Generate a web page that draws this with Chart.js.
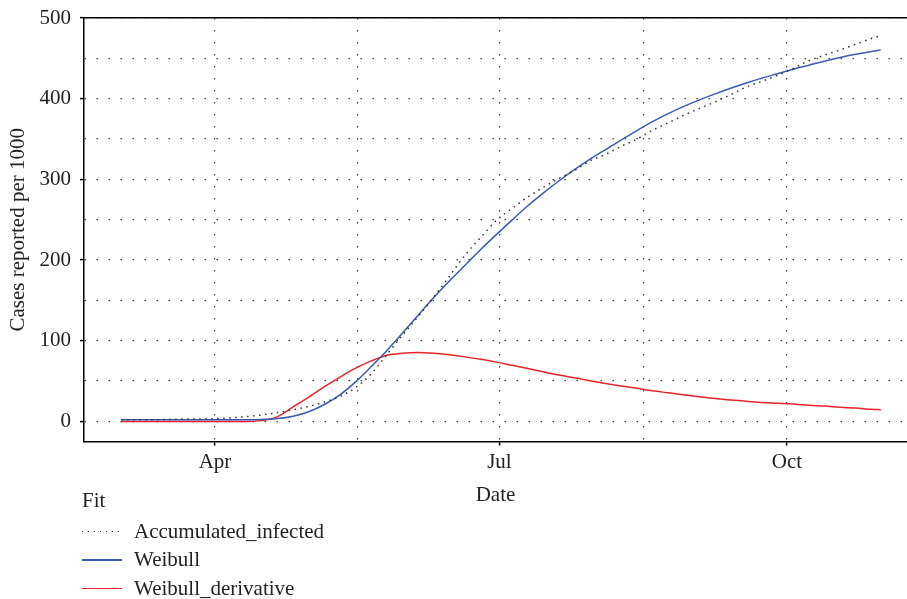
<!DOCTYPE html>
<html>
<head>
<meta charset="utf-8">
<script src="https://cdn.jsdelivr.net/npm/chart.js"></script>
<style>
  html, body { margin: 0; padding: 0; background: #fff; }
  #wrap { position: relative; width: 907px; height: 599px; }
  #legend {
    position: absolute; left: 82px; top: 486px;
    font-family: 'Liberation Serif', serif; font-size: 21px; color: #222;
  }
  #legend .row { height: 28.5px; display: flex; align-items: center; }
  #legend .row.head { margin-bottom: 2.5px; }
  #legend .swatch { width: 40px; height: 1.5px; margin-right: 12px; }
</style>
</head>
<body>
<div id="wrap">
  <canvas id="myChart" width="907" height="599"></canvas>
  <div id="legend"></div>
</div>
<script>
// day of year 2020 (Apr 1 = 91, Jul 1 = 182, Oct 1 = 274)
const days = [61, 66, 71, 76, 81, 86, 91, 96, 101, 106, 111, 116, 121, 126, 131, 136, 141, 146, 151, 156,
  161, 166, 171, 176, 181, 186, 191, 196, 201, 206, 211, 216, 221, 226, 231, 236, 241, 246, 251, 256,
  261, 266, 271, 276, 281, 286, 291, 296, 301, 304]

const accumulated = [2, 2, 2, 2.5, 3, 3, 3.5, 4.5, 6, 8, 11, 14.5, 18.5, 24, 31, 42, 59, 83, 107, 130,
  154, 180, 206, 228, 249, 264, 278, 290, 301, 311, 323, 331, 341, 350, 361, 370, 379.5, 388, 396, 405,
  414.5, 421.5, 429, 437.5, 447, 454, 460.5, 467.5, 474.5, 478]

const weibull = [2, 2, 2, 2, 2, 2, 2, 2, 2, 2.5, 3.5, 6.5, 12, 21, 33, 49, 68, 88, 109.5, 131.5,
  153.5, 174, 193.5, 213, 231.5, 249.5, 267, 283, 298, 312, 325, 337, 349, 360.5, 371.5, 381.5, 390.5, 398.5, 406, 413,
  419.5, 425.5, 431, 436.5, 441.5, 446.5, 451, 455, 458.5, 460.5]

const weibullDeriv = [0, 0, 0, 0, 0, 0, 0, 0, 0, 1, 6, 18, 30, 43, 55, 66, 75, 82, 84.5, 85.5,
  84.5, 82.5, 80, 77, 73.5, 69.5, 65.5, 61.5, 57.5, 54, 50.5, 47, 44, 41, 38, 35.5, 33, 30.5, 28.5, 26.5,
  25, 23.5, 22.5, 21.5, 20, 19, 17.5, 16.5, 15, 14.5]

const seriesNames = ['Accumulated_infected', 'Weibull', 'Weibull_derivative']
const xTickDays = [91, 136.5, 182, 228, 274]
const xTickLabels = ['Apr', '', 'Jul', '', 'Oct']
const yTicks = [0, 50, 100, 150, 200, 250, 300, 350, 400, 450, 500]

const xMin = 49.1, xMax = 312.4
const font = { family: "'Liberation Serif', serif", size: 21 }
const textColor = '#222'
const gridColor = 'rgba(0,0,0,0.75)'
const clear = 'rgba(0,0,0,0)'

const toPoints = vals => days.map((d, i) => ({ x: d, y: vals[i] }))

const lineStyles = [
  { color: '#333', dash: [1.5, 4.5] },
  { color: '#3b5bb0', dash: [] },
  { color: '#e8232b', dash: [] }
]

let ctx = document.getElementById('myChart').getContext('2d')

let fitChart = new Chart(ctx, {
  type: 'line',
  data: {
    datasets: [accumulated, weibull, weibullDeriv].map((vals, i) => ({
      label: seriesNames[i],
      data: toPoints(vals),
      xAxisID: 'x',
      borderColor: lineStyles[i].color,
      borderDash: lineStyles[i].dash,
      borderWidth: 1.5,
      pointRadius: 0,
      fill: false,
      cubicInterpolationMode: 'monotone'
    }))
  },
  options: {
    responsive: false,
    animation: false,
    layout: { padding: { top: 18, right: 0, bottom: 91, left: 0 } },
    plugins: { legend: { display: false }, tooltip: { enabled: false } },
    scales: {
      x: {
        type: 'linear', position: 'bottom', min: xMin, max: xMax,
        afterBuildTicks: s => { s.ticks = xTickDays.map(v => ({ value: v })) },
        ticks: { callback: (v, i) => xTickLabels[i], font, color: textColor, padding: 4, maxRotation: 0, autoSkip: false },
        grid: {
          color: gridColor, lineWidth: 1.2, tickLength: 4, tickWidth: 1.5, tickBorderDash: [],
          tickColor: c => xTickLabels[c.index] ? '#000' : clear
        },
        border: { display: true, color: '#000', width: 1.5, dash: [1.5, 10.5] },
        title: { display: true, text: 'Date', font, color: textColor, padding: { top: 4, bottom: 0 } }
      },
      x2: {
        type: 'linear', position: 'top', min: xMin, max: xMax,
        ticks: { display: false },
        grid: { display: false, drawTicks: false },
        border: { display: true, color: '#000', width: 1.5 }
      },
      y: {
        min: -25, max: 500,
        afterBuildTicks: s => { s.ticks = yTicks.map(v => ({ value: v })) },
        afterFit: s => { s.width = 84; s.paddingTop = 0; s.paddingBottom = 0 },
        ticks: { callback: v => (v % 100 === 0 ? v : ''), font, color: textColor, padding: 9 },
        grid: {
          color: gridColor, lineWidth: 1.2, tickLength: 4, tickWidth: 1.5, tickBorderDash: [],
          tickColor: c => (c.tick && c.tick.value % 100 === 0 ? '#000' : clear)
        },
        border: { display: true, color: '#000', width: 1.5, dash: [1.5, 10.5] },
        title: { display: true, text: 'Cases reported per 1000', font, color: textColor, padding: { top: 6, bottom: 0 } }
      }
    }
  }
})

// legend below the plot, one entry per row
let legend = document.getElementById('legend')
let html = '<div class="row head">Fit</div>'
lineStyles.forEach((s, i) => {
  let bg = s.dash.length
    ? 'repeating-linear-gradient(to right, ' + s.color + ' 0 1.5px, transparent 1.5px 6px)'
    : s.color
  html += '<div class="row"><span class="swatch" style="background:' + bg + '"></span>' + seriesNames[i] + '</div>'
})
legend.innerHTML = html
</script>
</body>
</html>
